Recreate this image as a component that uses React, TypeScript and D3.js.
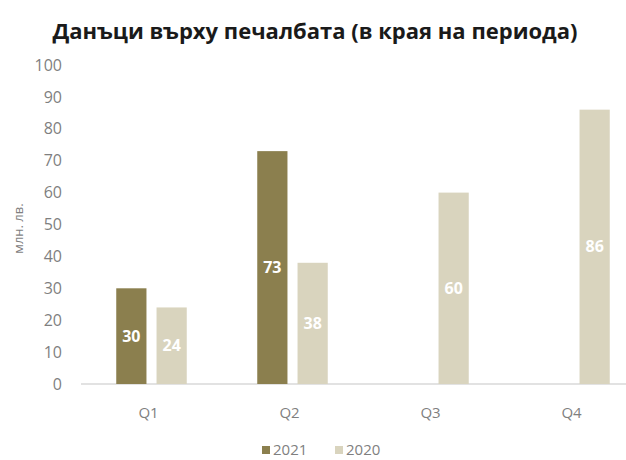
import React from "react";
import * as d3 from "d3";

const categories = ["Q1", "Q2", "Q3", "Q4"];
const seriesNames = ["2021", "2020"];
const values2021: (number | null)[] = [30, 73, null, null];
const values2020: (number | null)[] = [24, 38, 60, 86];
const yTicks = [0, 10, 20, 30, 40, 50, 60, 70, 80, 90, 100];
const colors = ["#8b7f4e", "#d9d4be"];

const W = 626;
const H = 460;

export default function App() {
  const x0 = d3.scaleBand<string>().domain(categories).range([81, 645]).paddingInner(0.5).paddingOuter(0.25);
  const x1 = d3.scaleBand<string>().domain(seriesNames).range([0, x0.bandwidth()]).paddingInner(0.25);
  const y = d3.scaleLinear().domain([0, 100]).range([384, 65]);
  const series = [values2021, values2020];
  const font = "'Open Sans', sans-serif";

  return (
    <svg width={W} height={H} style={{ position: "absolute", left: 0, top: 0, background: "#fff" }}>
      <text x={315} y={39} textAnchor="middle" fontFamily={font} fontWeight={700} fontSize={22} fill="#1a1a1a">
        Данъци върху печалбата (в края на периода)
      </text>
      {yTicks.map((t) => (
        <text key={t} x={62} y={y(t)} dy="0.35em" textAnchor="end" fontFamily={font} fontSize={16} fill="#7f7f7f">
          {t}
        </text>
      ))}
      <text
        transform={`translate(23,${(y(0) + y(100)) / 2 + 4}) rotate(-90)`}
        textAnchor="middle"
        fontFamily={font}
        fontSize={13}
        fill="#7f7f7f"
      >
        млн. лв.
      </text>
      <line x1={81} x2={W} y1={y(0)} y2={y(0)} stroke="#d9d9d9" strokeWidth={1.5} />
      {categories.map((c, ci) =>
        series.map((s, si) => {
          const v = s[ci];
          if (v == null) return null;
          const bx = (x0(c) as number) + (x1(seriesNames[si]) as number);
          const bw = x1.bandwidth();
          return (
            <g key={c + si}>
              <rect x={bx} y={y(v)} width={bw} height={y(0) - y(v)} fill={colors[si]} />
              <text
                x={bx + bw / 2}
                y={(y(v) + y(0)) / 2}
                dy="0.35em"
                textAnchor="middle"
                fontFamily={font}
                fontWeight={700}
                fontSize={16}
                fill="#ffffff"
              >
                {v}
              </text>
            </g>
          );
        })
      )}
      {categories.map((c) => (
        <text
          key={c}
          x={(x0(c) as number) + x0.bandwidth() / 2 - 3}
          y={413}
          dy="0.35em"
          textAnchor="middle"
          fontFamily={font}
          fontSize={15}
          fill="#7f7f7f"
        >
          {c}
        </text>
      ))}
      {seriesNames.map((n, i) => {
        const lx = 262 + i * 73;
        return (
          <g key={n}>
            <rect x={lx} y={446} width={8} height={8} fill={colors[i]} />
            <text x={lx + 11} y={450} dy="0.35em" fontFamily={font} fontSize={15} fill="#7f7f7f">
              {n}
            </text>
          </g>
        );
      })}
    </svg>
  );
}
